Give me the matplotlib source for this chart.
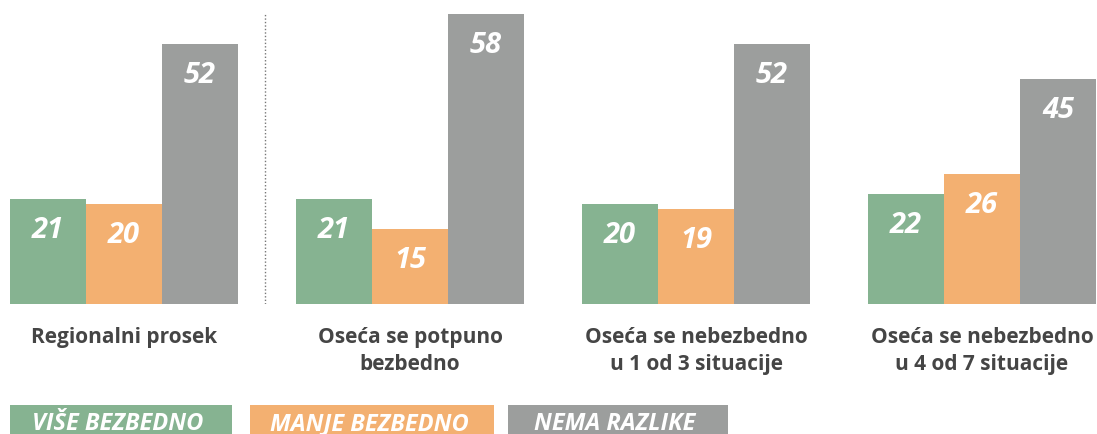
import matplotlib.pyplot as plt
from matplotlib.patches import Rectangle

plt.rcParams['font.family'] = ['Open Sans', 'DejaVu Sans']

categories = ['Regionalni prosek', 'Oseća se potpuno\nbezbedno',
              'Oseća se nebezbedno\nu 1 od 3 situacije', 'Oseća se nebezbedno\nu 4 od 7 situacije']
series = ['VIŠE BEZBEDNO', 'MANJE BEZBEDNO', 'NEMA RAZLIKE']
vise = [21, 21, 20, 22]
manje = [20, 15, 19, 26]
nema = [52, 58, 52, 45]

colors = ['#86b391', '#f3b071', '#9c9e9d']
text_color = '#454545'

W, H = 1097, 434
fig = plt.figure(figsize=(W / 100, H / 100), dpi=100)
ax = fig.add_axes([0, 130 / H, 1, 300 / H])

group_w = 286.0
bar_w = 76 / group_w
ax.set_xlim(-124 / group_w, (W - 124) / group_w)
ax.set_ylim(0, 60)
ax.axis('off')

for k, vals in enumerate([vise, manje, nema]):
    for g, v in enumerate(vals):
        x = g + (k - 1) * bar_w
        ax.bar(x, v, width=bar_w, color=colors[k], linewidth=0)
        ax.text(x, v - 7.8, str(v), ha='center', va='baseline', color='white',
                fontsize=21, fontweight='bold', fontstyle='italic')

for g, lab in enumerate(categories):
    ax.text(g, -4.6, lab, ha='center', va='top', color=text_color,
            fontsize=15, fontweight='bold', linespacing=1.35, clip_on=False)

# dotted separator after the regional average
ax.plot([0.493, 0.493], [0, 58], color='#777777', linestyle=(0, (1, 1.5)), linewidth=1)

# legend boxes at the bottom
boxes = [(10, 232), (250, 494), (508, 728)]
for (x0, x1), lab, c in zip(boxes, series, colors):
    fig.add_artist(Rectangle((x0 / W, 0), (x1 - x0) / W, 29 / H,
                             transform=fig.transFigure, color=c, linewidth=0))
    fig.text((x0 + x1) / 2 / W - 3 / W, 4 / H, lab, ha='center', va='baseline',
             color='white', fontsize=17, fontweight='bold', fontstyle='italic')

fig.savefig('out.png', dpi=100)
